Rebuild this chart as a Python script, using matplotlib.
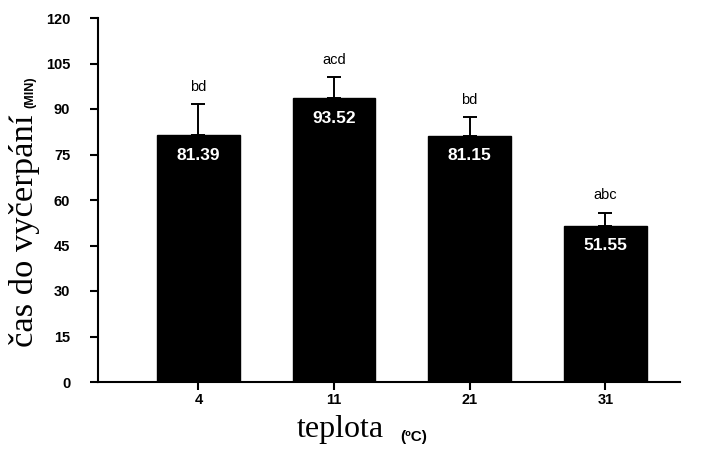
import matplotlib
matplotlib.use("Agg")
import matplotlib.pyplot as plt
import numpy as np

categories = ["4", "11", "21", "31"]
means = [81.39, 93.52, 81.15, 51.55]
errors = [10.2, 7.0, 6.1, 4.3]
letters = ["bd", "acd", "bd", "abc"]
value_labels = ["81.39", "93.52", "81.15", "51.55"]
yticks = [0, 15, 30, 45, 60, 75, 90, 105, 120]

W, H = 703, 455
fig = plt.figure(figsize=(W / 100, H / 100), dpi=100)
ax = fig.add_axes([98 / W, 1 - 382 / H, (680 - 98) / W, (382 - 18) / H])

x = np.arange(len(categories))
ax.bar(x, means, width=0.61, color="black", edgecolor="black", zorder=2)
ax.errorbar(x, means, yerr=[[0] * len(errors), errors], fmt="none",
            ecolor="black", elinewidth=1.4, capsize=4.7, capthick=1.4, zorder=1)

for xi, m, e, lt, vl in zip(x, means, errors, letters, value_labels):
    ax.annotate(lt, (xi, m + e), xytext=(0, 12.5), textcoords="offset points",
                ha="center", va="center", fontsize=10.5, fontfamily="Liberation Sans",
                color="black")
    ax.annotate(vl, (xi, m), xytext=(0, -14.5), textcoords="offset points",
                ha="center", va="center", fontsize=12.5, fontweight="bold",
                fontfamily="Liberation Sans", color="white")

ax.set_xlim(-0.74, 3.55)
ax.set_ylim(0, 120)
ax.set_xticks(x)
ax.set_xticklabels(categories)
ax.set_yticks(yticks)
ax.set_yticklabels([str(t) for t in yticks])

for s in ["top", "right"]:
    ax.spines[s].set_visible(False)
for s in ["left", "bottom"]:
    ax.spines[s].set_linewidth(1.5)
    ax.spines[s].set_color("black")

ax.tick_params(axis="y", direction="out", length=6, width=1.5, pad=14)
ax.tick_params(axis="x", direction="out", length=6, width=1.5, pad=2)
for lab in ax.get_xticklabels() + ax.get_yticklabels():
    lab.set_fontfamily("Liberation Sans")
    lab.set_fontweight("bold")
    lab.set_fontsize(10.5)

# y label
fig.text(33 / W, 1 - 347 / H, "čas do vyčerpání", rotation=90,
         rotation_mode="anchor", ha="left", va="baseline",
         fontsize=24.8, fontfamily="Liberation Serif", color="black")
fig.text(33 / W, 1 - 108 / H, "(MIN)", rotation=90,
         rotation_mode="anchor", ha="left", va="baseline",
         fontsize=9, fontweight="bold", fontfamily="Liberation Sans", color="black")

# x label
fig.text(297 / W, 1 - 437 / H, "teplota", ha="left", va="baseline",
         fontsize=23, fontfamily="Liberation Serif", color="black")
fig.text(400 / W, 1 - 441 / H, "(ºC)", ha="left", va="baseline",
         fontsize=11, fontweight="bold", fontfamily="Liberation Sans", color="black")

fig.savefig("out.png", dpi=100)
